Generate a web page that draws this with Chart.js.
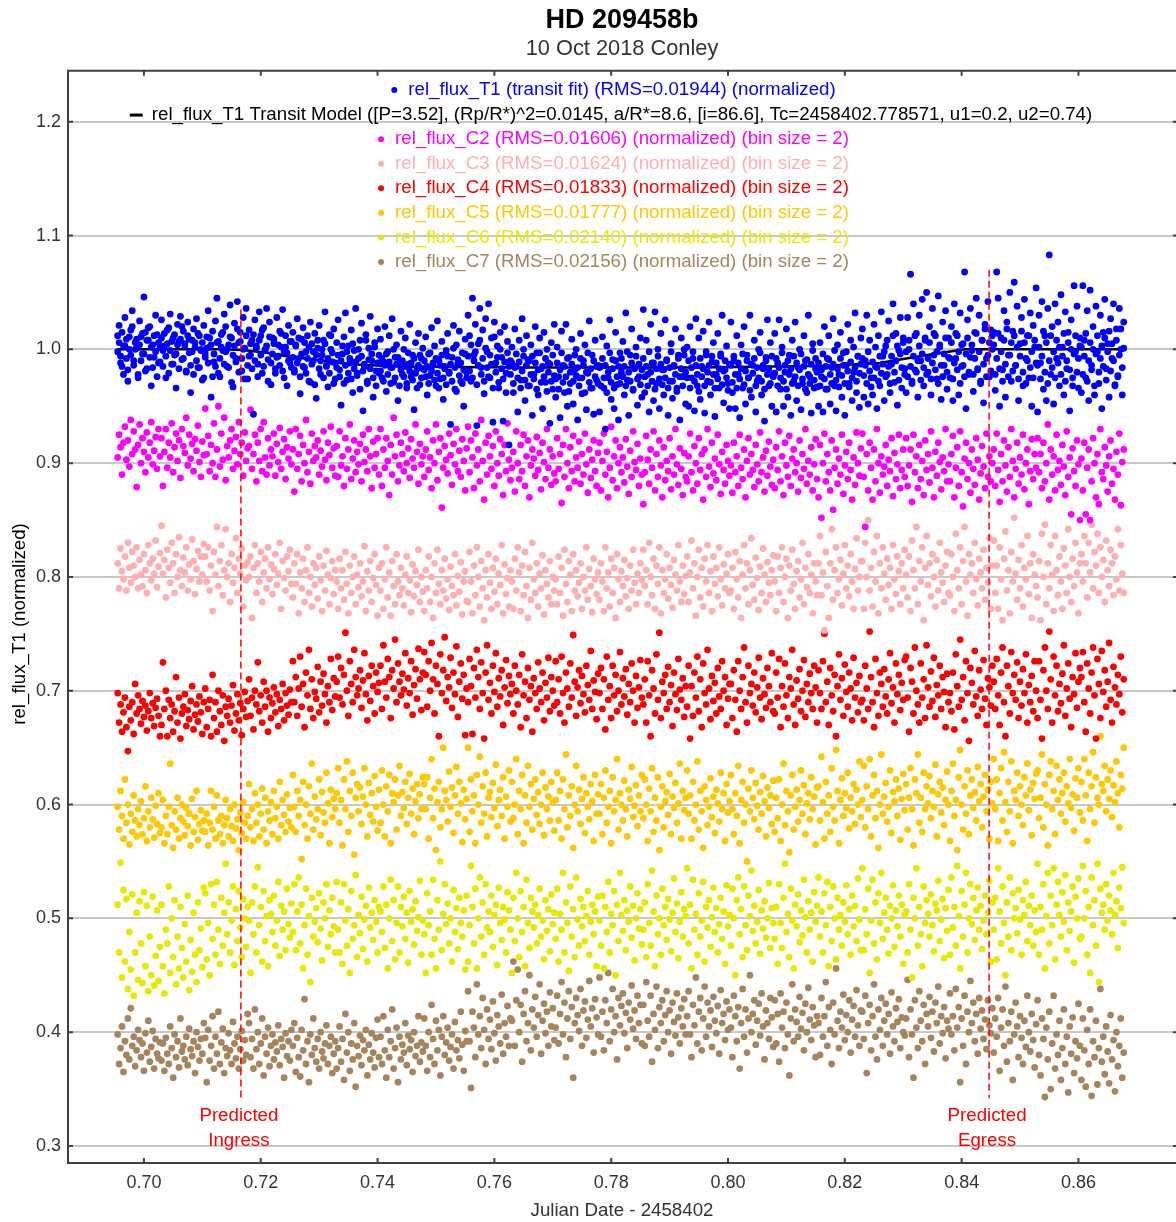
<!DOCTYPE html>
<html>
<head>
<meta charset="utf-8">
<title>HD 209458b</title>
<script src="https://cdn.jsdelivr.net/npm/chart.js@4"></script>
<style>
html, body { margin: 0; padding: 0; background: #ffffff; }
canvas { display: block; }
</style>
</head>
<body>
<canvas id="lightCurve" width="1176" height="1222"></canvas>
<script>
// time in units of 0.00001 day after JD 2458402, flux in units of 0.001
const jd = [
69550,69575,69600,69625,69650,69675,69700,69725,69750,69775,69800,69825,69850,69875,69900,69925,69950,69975,70000,70025,70050,70075,70100,70125,70150,70175,70200,70225,70250,70275,
70300,70325,70350,70375,70400,70425,70450,70475,70500,70525,70550,70575,70600,70625,70650,70675,70700,70725,70750,70775,70800,70825,70850,70875,70900,70925,70950,70975,71000,71025,
71050,71075,71100,71125,71150,71175,71200,71225,71250,71275,71300,71325,71350,71375,71400,71425,71450,71475,71500,71525,71550,71575,71600,71625,71650,71675,71700,71725,71750,71775,
71800,71825,71850,71875,71900,71925,71950,71975,72000,72025,72050,72075,72100,72125,72150,72175,72200,72225,72250,72275,72300,72325,72350,72375,72400,72425,72450,72475,72500,72525,
72550,72575,72600,72625,72650,72675,72700,72725,72750,72775,72800,72825,72850,72875,72900,72925,72950,72975,73000,73025,73050,73075,73100,73125,73150,73175,73200,73225,73250,73275,
73300,73325,73350,73375,73400,73425,73450,73475,73500,73525,73550,73575,73600,73625,73650,73675,73700,73725,73750,73775,73800,73825,73850,73875,73900,73925,73950,73975,74000,74025,
74050,74075,74100,74125,74150,74175,74200,74225,74250,74275,74300,74325,74350,74375,74400,74425,74450,74475,74500,74525,74550,74575,74600,74625,74650,74675,74700,74725,74750,74775,
74800,74825,74850,74875,74900,74925,74950,74975,75000,75025,75050,75075,75100,75125,75150,75175,75200,75225,75250,75275,75300,75325,75350,75375,75400,75425,75450,75475,75500,75525,
75550,75575,75600,75625,75650,75675,75700,75725,75750,75775,75800,75825,75850,75875,75900,75925,75950,75975,76000,76025,76050,76075,76100,76125,76150,76175,76200,76225,76250,76275,
76300,76325,76350,76375,76400,76425,76450,76475,76500,76525,76550,76575,76600,76625,76650,76675,76700,76725,76750,76775,76800,76825,76850,76875,76900,76925,76950,76975,77000,77025,
77050,77075,77100,77125,77150,77175,77200,77225,77250,77275,77300,77325,77350,77375,77400,77425,77450,77475,77500,77525,77550,77575,77600,77625,77650,77675,77700,77725,77750,77775,
77800,77825,77850,77875,77900,77925,77950,77975,78000,78025,78050,78075,78100,78125,78150,78175,78200,78225,78250,78275,78300,78325,78350,78375,78400,78425,78450,78475,78500,78525,
78550,78575,78600,78625,78650,78675,78700,78725,78750,78775,78800,78825,78850,78875,78900,78925,78950,78975,79000,79025,79050,79075,79100,79125,79150,79175,79200,79225,79250,79275,
79300,79325,79350,79375,79400,79425,79450,79475,79500,79525,79550,79575,79600,79625,79650,79675,79700,79725,79750,79775,79800,79825,79850,79875,79900,79925,79950,79975,80000,80025,
80050,80075,80100,80125,80150,80175,80200,80225,80250,80275,80300,80325,80350,80375,80400,80425,80450,80475,80500,80525,80550,80575,80600,80625,80650,80675,80700,80725,80750,80775,
80800,80825,80850,80875,80900,80925,80950,80975,81000,81025,81050,81075,81100,81125,81150,81175,81200,81225,81250,81275,81300,81325,81350,81375,81400,81425,81450,81475,81500,81525,
81550,81575,81600,81625,81650,81675,81700,81725,81750,81775,81800,81825,81850,81875,81900,81925,81950,81975,82000,82025,82050,82075,82100,82125,82150,82175,82200,82225,82250,82275,
82300,82325,82350,82375,82400,82425,82450,82475,82500,82525,82550,82575,82600,82625,82650,82675,82700,82725,82750,82775,82800,82825,82850,82875,82900,82925,82950,82975,83000,83025,
83050,83075,83100,83125,83150,83175,83200,83225,83250,83275,83300,83325,83350,83375,83400,83425,83450,83475,83500,83525,83550,83575,83600,83625,83650,83675,83700,83725,83750,83775,
83800,83825,83850,83875,83900,83925,83950,83975,84000,84025,84050,84075,84100,84125,84150,84175,84200,84225,84250,84275,84300,84325,84350,84375,84400,84425,84450,84475,84500,84525,
84550,84575,84600,84625,84650,84675,84700,84725,84750,84775,84800,84825,84850,84875,84900,84925,84950,84975,85000,85025,85050,85075,85100,85125,85150,85175,85200,85225,85250,85275,
85300,85325,85350,85375,85400,85425,85450,85475,85500,85525,85550,85575,85600,85625,85650,85675,85700,85725,85750,85775,85800,85825,85850,85875,85900,85925,85950,85975,86000,86025,
86050,86075,86100,86125,86150,86175,86200,86225,86250,86275,86300,86325,86350,86375,86400,86425,86450,86475,86500,86525,86550,86575,86600,86625,86650,86675,86700,86725,86750,86775];

const fluxT1 = [
1012,1021,994,985,1003,1028,1009,972,1000,1017,1034,990,1006,1001,978,1025,1011,996,1046,1015,983,1008,1020,968,1004,993,1030,1013,988,1002,
1026,999,1014,975,1005,1019,1031,987,1010,995,966,1022,1007,1029,991,1016,1003,980,1024,1009,962,998,1018,1006,1027,984,1012,1000,973,1021,
996,1011,1034,1002,958,1016,989,1025,1045,1007,976,1013,999,1031,1020,985,1004,1039,1010,967,1023,992,1042,1006,1015,981,1028,1001,1036,974,
1017,995,1008,943,1026,1003,987,1033,1012,979,1019,1000,1036,991,1024,969,1010,1005,983,1028,994,1016,1002,1035,975,1012,997,1021,988,1007,
1015,980,1004,1027,992,961,1009,1019,984,998,1012,972,1024,1005,990,1014,957,1001,1021,978,995,1008,1033,985,967,1013,1000,989,1018,974,
1006,1026,982,951,996,1011,1032,973,1003,988,1017,962,999,1036,979,992,1008,1023,946,985,1013,970,1001,1029,990,958,1006,981,1018,995,
1009,975,989,1020,963,998,1012,984,1027,971,993,1004,955,988,1016,978,1000,1010,966,987,1022,976,995,947,1006,983,1014,969,992,1001,
982,1011,960,996,977,1019,986,1003,968,1025,990,974,1007,956,985,999,1014,979,934,993,1021,965,1004,988,1016,972,997,950,1009,980,
1030,1012,972,1045,995,1022,933,1005,1036,984,1017,961,1027,998,1040,975,1010,936,1024,988,1003,966,1015,993,937,1020,979,1007,916,990,
1002,962,1018,985,945,1008,973,1027,994,955,1012,968,990,1004,942,978,1020,997,960,1010,983,948,1015,971,1000,988,935,1006,965,1022,
958,1002,976,940,1016,986,962,1022,950,993,970,1009,952,982,1000,938,975,1014,961,990,1004,947,979,1025,966,995,943,1008,973,986,
945,985,1011,966,930,1003,975,1026,956,991,948,1015,969,938,997,980,1007,960,1032,973,942,995,1018,964,984,1002,951,976,1010,958,
1035,962,1008,978,945,1022,988,955,1033,970,1000,948,1014,982,960,1026,991,942,972,1005,957,985,1018,966,995,938,1010,976,1000,952,
1002,950,1020,975,992,946,1027,968,1010,956,985,1016,944,998,972,1024,960,989,1006,941,978,1014,966,994,1030,953,982,1003,970,948,
1024,962,990,948,1012,978,940,1004,966,1020,952,995,975,1030,958,986,1008,945,972,1000,1015,960,983,937,993,1026,968,1006,950,978,
1014,945,988,1026,965,1002,950,980,1018,958,995,942,1008,972,1024,955,984,1000,947,970,1012,990,962,1030,976,944,1005,966,992,980,
950,1006,976,945,1020,965,992,1012,952,984,1027,968,946,1004,978,1015,958,997,942,986,1022,970,1008,955,980,1032,962,994,949,1010,
1018,958,990,1030,952,1008,975,960,1022,985,948,1012,968,1033,994,955,1003,978,1025,962,987,1040,971,1014,951,999,1028,966,1006,983,
962,1028,1000,1066,972,1040,982,1014,958,1030,990,1044,968,1008,1050,980,1020,960,1036,995,1012,974,1047,1002,956,1024,986,1034,965,1010,
975,1020,955,1040,992,1012,960,1032,985,1005,1068,948,1026,978,1036,999,963,1015,1045,982,1030,970,1008,953,1022,992,1042,976,1017,1000,
1015,964,1068,1045,950,1010,982,1034,958,1024,995,1050,972,1016,1059,986,1038,955,1005,1028,968,1044,992,1012,975,1032,950,1021,1002,1054,
945,1030,988,1042,965,1012,955,1036,1083,978,1020,952,1040,992,1024,968,1048,1002,960,1033,983,1015,946,1026,975,1056,998,1038,966,1010,
962,1056,1008,975,1034,955,1052,986,1020,960,1038,998,970,1030,948,1015,1044,983,1005,958,1027,992,1040,968,1018,976,1036,1000,960,1024];

const fluxT1b = [
998,1006,988,1015,978,1003,992,982,1011,995,1020,986,1000,1009,975,1004,990,1014,996,981,1008,1019,993,1002,984,1012,998,976,1006,989,
1010,985,1003,994,1017,979,999,1007,987,1013,996,1004,983,1009,1020,992,1005,981,1012,997,986,1008,978,1002,990,1014,984,999,1006,975,
993,1001,988,1010,1004,976,996,985,1006,979,992,1002,1015,987,998,1000,984,1011,971,995,1003,989,1018,980,1007,992,1000,974,1012,986,
994,1005,983,1013,990,1001,976,1008,995,1017,985,999,1003,972,1011,988,996,1009,979,993,1004,986,1014,981,998,1002,968,990,1007,984,
993,982,1003,988,1010,976,996,985,1006,979,992,1002,971,987,998,969,995,1008,983,990,1000,975,1005,986,992,979,1012,997,970,988,
984,995,976,990,1003,970,986,998,979,992,974,1005,983,989,977,1000,965,994,981,987,1008,972,991,983,996,975,1002,968,988,979,
981,992,972,986,996,978,989,970,984,1000,975,987,993,968,982,990,976,985,970,997,981,988,973,992,979,966,986,995,975,983,
990,976,985,970,997,981,988,973,992,979,966,986,995,975,983,969,994,980,987,972,1001,984,963,991,977,988,970,982,996,975,
994,981,1004,975,990,998,969,986,1008,978,992,972,1001,984,976,995,987,966,1011,980,993,971,1000,983,974,989,962,997,985,978,
988,970,984,996,975,989,966,981,1000,973,986,991,968,978,994,974,988,965,982,997,971,985,976,992,963,980,987,972,995,977,
974,988,965,982,997,971,985,976,992,963,980,987,972,995,977,984,968,992,975,986,962,980,997,971,983,966,990,976,985,970,
984,968,992,975,986,962,980,997,971,983,966,990,976,985,970,992,976,985,968,998,980,972,988,965,983,994,974,987,969,982,
992,976,985,968,998,980,972,988,965,983,994,974,987,969,982,975,990,966,984,998,972,986,978,963,992,976,983,968,995,980,
975,990,966,984,998,972,986,978,963,992,976,983,968,995,980,986,971,994,978,966,988,974,983,996,969,981,990,975,964,987,
986,971,994,978,966,988,974,983,996,969,981,990,975,964,987,979,992,968,984,975,997,972,986,965,990,978,983,970,994,976,
979,992,968,984,975,997,972,986,965,990,978,983,970,994,976,988,968,982,996,974,985,965,991,978,970,987,999,973,983,967,
988,968,982,996,974,985,965,991,978,970,987,999,973,983,967,992,977,986,970,998,981,967,989,975,1002,984,972,994,979,987,
992,977,986,970,998,981,967,989,975,1002,984,972,994,979,987,998,976,1008,985,970,994,1012,980,990,1003,973,996,984,1010,978,
998,976,1008,985,970,994,1012,980,990,1003,973,996,984,1010,978,992,1006,974,988,1014,982,998,970,1004,986,976,996,1010,980,993,
992,1006,974,988,1014,982,998,970,1004,986,976,996,1010,980,993,1004,978,992,1014,983,998,972,1008,987,1018,976,995,1006,981,1012,
1004,978,992,1014,983,998,972,1008,987,1018,976,995,1006,981,1012,986,1002,974,994,1016,980,1006,970,990,1012,984,998,975,1008,988,
986,1002,974,994,1016,980,1006,970,990,1012,984,998,975,1008,988,1002,978,994,1014,972,990,1006,982,1000,968,996,1012,980,992,1003,
1002,978,994,1014,972,990,1006,982,1000,968,996,1012,980,992,1003,985,1010,973,998,1016,981,1005,990,969,1008,977,995,1018,984,1001];

const fluxC2 = [
905,925,914,890,918,932,903,920,897,938,908,928,912,879,916,934,900,922,910,892,927,905,918,936,899,911,923,895,930,906,
922,880,910,930,896,918,905,935,892,914,926,902,920,887,930,915,909,940,898,925,904,917,893,921,911,933,901,888,919,907,
948,908,924,893,916,900,935,888,912,950,897,926,903,940,885,915,905,920,930,895,911,923,899,936,908,918,889,927,902,913,
915,947,895,908,925,884,918,902,930,893,936,905,890,922,898,912,906,926,889,917,901,931,895,910,921,886,914,904,928,899,
912,875,930,895,908,924,884,916,900,938,892,910,882,926,902,915,905,920,890,911,897,928,903,885,918,907,932,896,913,889,
915,888,928,898,906,880,922,895,912,934,886,904,920,892,910,899,917,884,925,901,912,893,930,906,878,919,896,908,922,890,
930,880,912,896,922,902,872,916,890,940,906,925,884,898,918,908,893,927,900,913,887,921,904,896,934,910,882,917,899,906,
888,912,928,894,905,878,920,900,934,885,910,922,861,896,915,903,891,926,907,881,917,899,930,893,911,888,921,902,876,913,
932,892,920,905,878,926,898,912,884,938,902,868,918,890,924,906,895,915,880,928,900,889,921,908,872,916,893,935,903,885,
896,910,875,928,900,886,916,893,925,880,906,920,870,898,912,904,889,923,894,909,877,918,901,886,930,896,912,881,906,891,
884,922,895,908,865,916,888,930,900,878,914,893,924,884,905,896,919,882,908,890,926,899,874,912,887,903,920,893,880,909,
918,876,902,926,890,910,870,896,932,885,906,920,878,900,914,892,905,883,921,897,873,911,888,928,901,894,917,880,904,890,
864,892,924,903,882,912,896,928,876,908,888,920,898,870,914,885,902,893,922,877,906,890,930,899,881,913,895,872,909,888,
884,906,926,892,876,915,900,882,922,894,908,868,912,888,930,897,879,918,891,904,885,925,899,873,910,894,882,916,902,889,
898,874,918,892,906,880,925,896,886,912,870,902,922,890,908,894,879,916,899,884,927,892,905,875,911,889,919,897,881,903,
878,914,894,928,884,906,872,918,898,888,924,880,904,912,892,900,875,920,887,908,895,930,882,902,890,914,876,899,921,886,
870,916,852,900,926,884,908,892,876,920,859,896,912,882,904,890,925,873,898,910,886,918,894,868,905,881,927,900,889,913,
926,888,844,908,876,918,896,868,912,884,930,900,874,906,890,897,916,880,903,893,922,871,909,886,899,925,878,894,912,888,
922,880,898,912,866,925,892,906,878,916,886,902,872,920,894,908,883,928,896,870,910,889,918,901,877,905,893,930,884,899,
884,908,924,870,896,914,880,928,892,862,904,918,886,900,874,912,895,881,922,903,868,891,915,897,878,926,888,906,884,900,
912,880,926,894,866,908,884,920,898,875,914,888,930,902,870,895,918,882,905,890,925,877,900,912,864,893,921,886,908,896,
922,892,908,878,918,884,900,934,868,912,890,906,876,925,894,902,881,916,897,872,928,888,905,855,913,893,880,920,899,850,
904,876,918,855,896,912,850,884,922,900,870,908,864,930,892,886,914,898,875,906,920,882,895,868,910,890,926,863,901,912];

const fluxC3 = [
812,790,825,805,798,818,788,830,808,795,822,810,800,826,790,815,802,792,820,806,786,828,812,797,816,803,832,791,809,821,
845,803,815,782,824,808,795,830,812,786,820,800,835,806,792,817,804,826,788,811,798,833,814,785,807,823,796,818,802,829,
818,796,826,788,810,770,822,802,844,792,814,828,784,806,842,800,812,778,820,795,808,834,786,816,803,825,774,810,797,813,
800,818,764,808,828,786,812,796,822,778,804,816,790,826,798,811,785,807,820,793,803,830,772,814,799,788,818,805,824,794,
782,812,794,820,768,804,790,816,778,806,826,786,800,774,812,793,808,781,818,797,770,810,788,823,802,776,799,814,785,806,
796,772,816,790,806,780,822,794,768,810,786,800,818,776,802,791,812,783,796,827,770,805,788,814,778,799,820,793,766,808,
788,812,772,798,826,782,804,766,814,792,776,820,796,784,808,790,775,802,818,786,797,769,811,783,805,793,824,778,800,787,
770,806,790,818,778,800,764,812,786,824,794,776,806,788,816,781,798,771,809,792,784,820,775,801,787,813,767,796,805,779,
778,822,796,768,810,784,826,800,774,814,790,762,806,782,820,795,772,808,787,816,776,803,793,828,768,811,785,799,774,806,
796,772,816,788,826,804,770,810,784,822,792,764,808,780,830,798,786,812,774,803,790,819,767,806,794,782,814,776,800,788,
798,776,818,786,808,766,824,794,778,814,802,770,820,788,806,783,795,812,772,800,788,826,780,807,792,769,816,798,785,804,
780,812,796,770,826,790,804,774,816,786,808,764,820,798,778,805,792,815,783,799,772,810,788,824,795,776,803,786,812,797,
824,792,806,776,830,800,784,816,772,810,794,826,768,806,786,798,820,781,808,793,773,815,802,788,828,796,778,810,785,801,
818,778,804,832,790,812,766,800,824,782,808,774,816,796,828,786,805,770,818,794,808,783,826,798,775,811,790,803,820,786,
788,808,772,822,798,782,814,764,802,828,790,812,776,806,834,793,780,817,799,771,809,786,825,802,778,813,795,784,806,819,
796,770,818,786,808,826,778,800,816,764,810,788,824,794,772,805,814,782,798,830,776,808,791,820,786,802,768,812,796,784,
812,836,784,804,753,822,792,764,812,842,780,806,826,786,798,815,775,803,828,790,810,783,820,796,772,807,834,788,800,814,
814,772,830,800,850,788,808,774,822,796,836,768,812,790,826,803,780,816,793,808,772,828,798,785,818,805,776,812,790,824,
802,782,818,770,832,806,790,844,776,814,796,826,762,808,836,793,812,783,820,800,774,815,788,830,804,795,778,810,822,786,
784,820,800,770,838,806,790,826,776,814,844,796,766,820,802,812,786,830,798,775,816,804,790,824,780,808,795,834,772,810,
832,786,810,772,826,798,762,816,840,788,806,768,822,796,852,803,780,815,790,828,774,808,798,836,785,812,764,820,802,792,
782,814,762,838,800,846,776,812,790,828,802,770,836,806,784,818,796,772,825,810,786,842,800,778,816,792,830,804,768,812,
820,796,836,812,782,830,804,846,790,822,810,838,786,826,800,815,778,832,806,792,824,812,784,818,798,842,788,828,803,786];

const fluxC4 = [
698,672,688,664,681,694,668,647,686,674,690,662,706,680,696,684,671,691,677,687,665,682,698,676,689,669,685,693,678,660,
670,725,684,700,660,692,676,688,664,682,712,672,694,658,680,686,697,669,683,675,691,704,666,679,688,673,695,681,662,690,
702,668,684,692,660,714,676,690,664,700,682,670,696,656,686,678,693,672,687,705,665,680,697,674,689,661,684,699,677,691,
710,678,694,666,700,688,725,682,696,672,708,686,700,664,694,676,689,703,681,697,669,692,684,706,674,698,687,679,701,690,
726,690,712,678,702,730,686,706,668,716,696,736,684,710,676,699,693,721,681,708,687,715,697,672,704,690,728,683,711,695,
708,730,694,720,688,714,751,700,678,726,706,690,736,712,696,702,718,685,709,733,697,674,713,691,722,704,680,716,699,707,
722,684,740,708,694,728,712,676,718,702,745,690,724,708,696,715,701,733,687,711,698,726,679,705,719,693,737,710,683,716,
734,714,686,726,700,742,710,680,722,706,660,732,698,718,747,691,712,703,729,685,716,697,739,677,708,724,693,714,661,702,
690,728,704,662,720,694,736,712,684,725,698,658,716,740,692,707,680,722,699,733,686,711,695,718,670,703,727,689,713,697,
706,680,722,700,688,714,668,732,696,708,676,720,692,704,664,711,698,684,725,702,690,716,674,707,694,729,682,712,700,687,
726,690,710,680,730,698,672,716,702,686,724,694,749,708,678,703,718,689,713,697,681,722,705,692,735,684,709,699,675,715,
698,720,684,710,666,730,692,704,676,722,696,714,682,700,734,688,711,695,719,679,706,690,724,700,672,713,685,703,727,694,
688,710,672,726,696,660,718,702,680,732,692,751,676,708,698,714,684,721,690,705,669,716,697,683,728,701,692,711,677,704,
686,722,658,704,678,716,694,730,682,710,668,724,698,688,736,702,675,713,691,707,680,720,695,684,726,700,712,670,693,706,
706,676,718,692,664,726,700,684,712,738,690,672,722,698,706,687,716,681,703,729,694,675,711,697,685,720,704,690,733,682,
680,716,694,728,668,704,686,724,696,676,712,702,736,688,670,709,693,719,682,700,727,677,706,690,715,698,684,722,703,672,
718,698,684,726,750,690,708,670,720,696,682,714,660,704,732,692,711,678,723,699,686,716,702,674,729,694,707,681,713,690,
692,674,722,702,684,752,712,690,668,728,698,678,716,706,686,719,695,680,710,733,689,703,672,724,697,714,683,707,692,727,
730,694,664,720,708,680,738,700,688,672,724,694,710,676,740,703,686,717,691,729,677,705,696,722,684,712,699,668,715,690,
698,682,716,666,732,704,686,745,692,712,674,726,698,656,720,707,688,735,695,678,718,701,684,727,693,670,711,703,687,722,
708,684,728,696,670,716,738,690,660,722,704,680,734,698,714,692,725,676,708,687,719,698,732,672,705,690,713,682,726,700,
676,726,692,658,718,738,700,684,752,710,672,730,696,722,682,706,689,715,740,678,702,724,693,668,712,697,733,685,708,720,
712,734,690,664,724,702,680,716,738,696,658,728,706,676,735,699,718,686,708,742,692,672,721,703,688,714,697,730,681,710];

const fluxC5 = [
598,578,612,590,570,622,584,600,565,592,576,608,586,572,596,582,603,574,588,616,568,594,580,606,587,571,599,583,610,575,
580,604,566,590,574,598,636,582,562,594,578,606,570,588,600,585,573,597,581,592,564,605,576,589,612,569,583,595,577,586,
576,592,564,584,612,578,598,570,608,586,574,590,566,582,604,588,572,596,581,568,600,579,587,560,593,575,602,584,570,590,
618,580,596,568,610,584,600,572,592,614,578,606,566,594,586,602,574,612,588,598,570,620,582,604,591,576,609,585,597,580,
626,598,576,612,590,604,552,620,582,600,570,616,592,636,578,607,587,596,622,573,611,593,584,628,601,566,613,589,605,596,
610,632,584,604,564,622,596,638,576,612,590,628,556,606,618,594,615,583,607,632,600,572,619,591,610,585,625,598,577,613,
584,630,600,572,616,594,626,566,610,602,622,578,608,634,590,611,597,620,583,606,627,592,614,574,603,618,588,609,596,624,
618,596,624,570,606,640,588,614,560,602,620,580,596,650,612,604,585,629,598,615,575,608,633,592,620,601,567,613,587,605,
650,576,622,594,608,566,626,600,642,584,616,592,628,572,606,611,589,619,597,635,581,604,613,590,624,570,607,598,630,585,
620,588,600,640,574,612,596,626,566,608,584,634,598,618,578,605,622,591,611,583,600,628,573,615,596,607,586,620,602,577,
604,628,586,612,570,622,596,644,580,608,590,616,562,600,634,594,613,583,605,624,575,610,598,587,618,603,568,626,592,609,
592,618,574,606,630,584,598,612,566,624,594,604,640,578,610,600,586,621,596,572,613,605,633,589,599,617,581,608,594,626,
588,622,600,568,614,594,632,576,606,586,624,560,598,616,580,603,611,591,627,574,607,597,619,584,601,636,570,612,595,606,
630,592,608,570,620,586,600,638,578,612,594,562,616,604,582,598,623,589,607,575,613,601,585,628,596,610,568,618,593,603,
626,596,574,610,590,634,566,604,620,584,600,550,614,594,630,606,587,619,599,578,611,592,625,603,572,615,597,608,583,621,
576,606,588,622,568,600,636,582,612,594,558,608,626,578,598,613,585,604,630,592,617,574,601,610,587,624,596,607,565,615,
616,586,642,602,570,620,592,608,576,632,598,586,648,612,566,604,623,590,610,597,628,579,606,594,618,583,613,600,638,589,
604,634,580,616,596,640,572,608,626,588,612,562,600,644,592,607,619,585,598,630,575,611,603,622,590,614,569,605,627,595,
618,578,606,632,596,564,622,610,644,584,606,576,628,596,616,601,625,588,612,598,635,572,609,620,593,615,582,604,629,600,
568,612,636,590,604,560,624,648,600,578,616,592,630,574,608,622,597,611,586,633,603,618,580,607,626,594,613,570,620,601,
640,596,622,568,610,632,586,646,602,576,620,594,638,566,612,604,628,590,616,600,582,624,608,636,595,613,573,619,605,627,
630,588,606,644,580,618,600,564,626,638,596,612,574,634,604,622,592,610,628,585,616,601,640,597,609,577,623,606,632,593,
620,586,640,608,568,628,596,616,646,584,624,606,600,660,618,612,634,594,622,605,630,589,617,602,638,610,580,626,614,650];

const fluxC6 = [
512,470,549,448,525,462,517,438,488,455,521,432,470,505,446,515,478,443,523,458,511,436,484,450,519,441,467,507,445,475,
512,458,434,490,478,528,452,500,466,516,442,484,456,510,474,448,495,462,520,437,481,453,505,468,444,514,472,491,457,527,
522,464,496,450,530,482,512,468,532,490,460,518,476,505,548,486,514,470,498,528,459,508,480,524,492,466,517,500,475,510,
498,452,514,486,528,470,545,494,510,462,524,480,502,458,516,504,488,520,476,498,532,467,511,490,506,472,526,495,483,513,
488,530,472,506,536,478,512,456,494,526,468,502,444,518,484,497,509,479,522,491,463,514,500,530,475,507,486,518,493,470,
532,490,470,514,460,530,498,476,508,452,524,482,494,538,466,503,487,519,473,499,511,462,527,492,505,481,516,497,470,510,
506,488,528,474,512,456,500,534,480,516,464,496,528,470,510,493,519,482,505,461,524,497,508,477,515,489,501,533,468,498,
486,452,522,494,506,468,534,482,456,516,490,550,472,504,530,495,513,478,500,462,525,488,509,473,518,496,484,507,455,520,
462,494,546,510,478,526,456,500,536,484,514,468,530,492,506,488,520,475,503,512,459,527,496,481,510,499,470,523,507,490,
452,518,480,540,500,466,524,488,510,458,534,496,474,518,506,492,512,478,503,526,484,498,464,516,489,508,471,521,495,505,
482,526,462,504,490,540,470,514,496,454,528,484,508,466,536,499,476,517,493,510,480,502,524,468,497,512,486,506,458,519,
498,476,520,456,510,488,532,470,504,494,524,450,512,480,540,503,489,516,472,507,497,528,483,511,463,500,522,491,508,477,
490,514,466,530,496,476,542,506,458,520,486,500,468,526,494,510,481,517,499,471,505,535,488,513,465,497,523,484,508,502,
544,478,512,456,534,490,504,468,522,484,498,532,462,510,492,516,475,501,527,488,509,470,495,518,482,506,460,529,493,503,
476,526,500,450,516,536,486,508,466,528,494,472,520,502,542,489,511,478,497,525,469,507,491,515,483,500,531,474,509,496,
482,510,460,530,496,474,518,548,488,504,466,526,498,456,512,493,521,479,507,485,534,501,470,515,490,505,462,523,497,511,
536,484,506,470,522,494,532,458,510,480,528,500,464,518,490,503,476,514,497,529,486,508,468,520,493,511,480,535,499,472,
544,472,508,486,526,452,498,534,478,514,464,522,496,540,482,505,518,490,469,511,500,529,475,507,493,520,484,512,460,503,
506,470,530,490,448,518,500,544,476,510,486,458,528,496,516,504,484,521,494,471,513,507,533,480,499,517,465,509,489,525,
468,536,492,510,476,546,502,456,524,484,512,540,470,500,530,495,518,481,507,527,490,511,473,498,520,486,505,533,462,514,
490,518,464,544,506,478,528,496,450,514,484,536,472,522,500,509,487,525,499,468,516,503,532,480,511,494,520,476,507,488,
548,468,510,490,530,456,502,540,478,520,494,544,464,512,532,503,484,523,497,538,472,514,489,506,528,461,519,500,535,482,
484,546,500,524,468,510,452,536,494,516,476,548,444,526,505,512,490,530,498,520,507,486,540,503,515,474,527,509,545,496];

const fluxC7 = [
398,372,386,405,365,392,380,412,376,421,388,396,370,384,402,393,378,390,366,399,382,410,374,387,401,368,394,381,377,391,
375,390,366,395,381,372,405,386,360,398,378,392,369,412,383,388,376,396,371,403,385,379,392,364,400,387,375,394,381,408,
395,356,402,375,388,414,368,396,381,418,372,391,403,364,386,379,399,384,372,409,390,377,396,368,385,401,375,393,380,416,
408,378,394,368,420,385,400,372,390,412,362,396,381,404,370,388,398,376,391,383,406,371,394,387,360,399,379,392,375,402,
388,408,365,395,378,361,402,384,429,372,392,356,398,380,412,386,374,394,368,400,383,377,390,406,372,388,396,364,381,392,
368,386,405,374,394,358,416,382,400,366,390,376,408,352,388,379,397,371,393,384,402,362,389,376,399,382,369,395,411,378,
396,372,414,384,360,402,378,392,420,368,386,404,356,396,376,389,382,408,371,397,385,393,365,400,379,388,414,374,391,383,
412,388,366,400,378,424,394,372,410,384,402,362,396,414,380,391,404,375,387,398,368,409,384,393,377,418,389,366,401,392,
436,392,351,418,404,378,442,398,414,386,430,402,372,420,394,411,385,427,399,375,415,405,390,433,381,408,396,423,388,412,
410,462,388,428,455,400,424,374,416,436,392,408,450,384,420,404,431,396,415,442,381,410,425,399,418,388,435,405,421,393,
404,432,390,416,444,398,426,378,412,436,394,422,360,408,430,415,401,438,388,419,427,395,411,445,405,421,382,429,413,398,
448,396,418,384,428,408,452,392,420,438,400,414,376,430,406,423,434,399,417,386,426,411,441,403,419,394,432,408,424,390,
424,388,444,410,396,432,374,416,402,440,386,422,408,428,392,415,436,400,419,381,426,409,397,434,413,390,421,405,429,398,
414,436,398,378,424,406,448,390,418,430,384,412,440,396,426,405,419,387,431,410,399,423,381,437,408,416,393,427,402,420,
404,378,432,414,392,422,368,408,438,396,420,382,412,450,400,416,428,389,410,425,397,434,405,376,419,408,394,430,413,387,
428,390,416,374,434,404,418,386,426,398,362,412,442,392,420,409,396,431,403,417,384,425,400,439,411,393,422,406,378,414,
408,380,430,396,414,444,388,422,402,372,426,398,456,410,386,418,404,433,393,415,400,428,382,411,423,396,437,406,388,419,
418,394,432,364,408,424,384,414,442,396,376,420,402,430,388,410,425,398,416,381,435,405,392,421,409,429,386,413,400,397,
412,446,378,420,398,360,428,404,386,436,410,392,424,372,416,405,431,395,418,383,426,408,440,390,414,399,422,377,410,403,
434,398,414,384,438,404,422,356,412,388,432,372,418,400,445,408,426,392,416,381,430,403,419,394,411,385,428,406,399,421,
382,412,396,430,366,404,420,388,440,374,408,392,418,358,398,426,405,378,414,395,372,410,387,432,400,383,416,393,369,407,
428,380,362,412,394,343,404,376,418,350,390,432,368,398,380,410,358,386,420,372,396,347,405,381,413,364,392,377,425,388,
358,412,384,352,402,372,420,344,392,378,410,354,386,438,374,396,363,405,383,355,415,376,393,348,400,370,388,412,360,382];

// transit model curve, on the same units
const modelX = [69550,71300,71700,72100,72450,72790,73530,74400,75190,76500,77860,79500,81700,82600,83000,83410,84060,86750];
const modelY = [1000,1000,999.5,997,994,991.7,987,985,984.5,984,984,984,985.5,988,991.5,995,1000,1000];

const ingressX = [71660,71660];
const ingressY = [1035,342];
const egressX = [84470,84470];
const egressY = [1070,342];

const legendLabels = [
  "rel_flux_T1 (transit fit) (RMS=0.01944) (normalized)",
  "rel_flux_T1 Transit Model ([P=3.52], (Rp/R*)^2=0.0145, a/R*=8.6, [i=86.6], Tc=2458402.778571, u1=0.2, u2=0.74)",
  "rel_flux_C2 (RMS=0.01606) (normalized) (bin size = 2)",
  "rel_flux_C3 (RMS=0.01624) (normalized) (bin size = 2)",
  "rel_flux_C4 (RMS=0.01833) (normalized) (bin size = 2)",
  "rel_flux_C5 (RMS=0.01777) (normalized) (bin size = 2)",
  "rel_flux_C6 (RMS=0.02140) (normalized) (bin size = 2)",
  "rel_flux_C7 (RMS=0.02156) (normalized) (bin size = 2)"
];
const legendColors = ["#0000ff","#000000","#ff00ff","#ffafaf","#ff0000","#ffc800","#e8e800","#a8845c"];
const FONT = '"Liberation Sans", Arial, sans-serif';

const frameAndLegend = {
  id: "frameAndLegend",
  afterDraw(chart) {
    const ctx = chart.ctx, a = chart.chartArea;
    ctx.save();
    ctx.strokeStyle = "#404040";
    ctx.lineWidth = 2;
    ctx.beginPath();
    ctx.moveTo(a.right, a.top); ctx.lineTo(a.left, a.top);
    ctx.lineTo(a.left, a.bottom); ctx.lineTo(a.right, a.bottom);
    ctx.stroke();
    chart.scales.x.ticks.forEach(t => {
      const p = chart.scales.x.getPixelForValue(t.value);
      ctx.beginPath();
      ctx.moveTo(p, a.bottom); ctx.lineTo(p, a.bottom - 5);
      ctx.moveTo(p, a.top); ctx.lineTo(p, a.top + 5);
      ctx.stroke();
    });
    chart.scales.y.ticks.forEach(t => {
      const p = chart.scales.y.getPixelForValue(t.value);
      ctx.beginPath();
      ctx.moveTo(a.left, p); ctx.lineTo(a.left + 5, p);
      ctx.moveTo(a.right, p); ctx.lineTo(a.right - 3, p);
      ctx.stroke();
    });

    // legend rows, centred over the plot
    ctx.font = "18.7px " + FONT;
    ctx.textBaseline = "middle";
    const mid = (a.left + a.right) / 2;
    legendLabels.forEach((label, i) => {
      const y = 90 + i * 24.57;
      const left = mid - ctx.measureText(label).width / 2;
      ctx.fillStyle = legendColors[i];
      ctx.textAlign = "left";
      ctx.fillText(label, left, y);
      if (i == 1) {
        ctx.fillRect(left - 22, y - 1, 13, 3);
      } else {
        ctx.beginPath();
        ctx.arc(left - 14, y, 3, 0, Math.PI * 2);
        ctx.fill();
      }
    });

    ctx.fillStyle = "#ff0000";
    ctx.textAlign = "center";
    const xi = chart.scales.x.getPixelForValue(ingressX[0] / 100000) - 2;
    const xe = chart.scales.x.getPixelForValue(egressX[0] / 100000) - 2;
    ctx.fillText("Predicted", xi, 1116);
    ctx.fillText("Ingress", xi, 1141);
    ctx.fillText("Predicted", xe, 1116);
    ctx.fillText("Egress", xe, 1141);

    ctx.fillStyle = "#000000";
    ctx.translate(20, 624);
    ctx.rotate(-Math.PI / 2);
    ctx.fillText("rel_flux_T1 (normalized)", 0, 0);
    ctx.restore();
  }
};

function pairs(xs, ys) {
  return xs.map((x, i) => ({x: x / 100000, y: ys[i] / 1000}));
}

function dots(values, color, order) {
  return { data: pairs(jd, values), backgroundColor: color, pointRadius: 3.4, borderWidth: 0, order };
}

new Chart(document.getElementById("lightCurve"), {
  type: "scatter",
  plugins: [frameAndLegend],
  data: {
    datasets: [
      dots(fluxT1, "#0000ff", 2),
      dots(fluxT1b, "#0000ff", 2),
      { type: "line", data: pairs(modelX, modelY), borderColor: "#000000", borderWidth: 2.5, pointRadius: 0, order: 3 },
      dots(fluxC2, "#ff00ff", 4),
      dots(fluxC3, "#ffafaf", 5),
      dots(fluxC4, "#ff0000", 6),
      dots(fluxC5, "#ffc800", 7),
      dots(fluxC6, "#e8e800", 8),
      dots(fluxC7, "#a8845c", 9),
      { type: "line", data: pairs(ingressX, ingressY), borderColor: "#ff0000", borderWidth: 1.5, borderDash: [7,4], pointRadius: 0, order: 1 },
      { type: "line", data: pairs(egressX, egressY), borderColor: "#ff0000", borderWidth: 1.5, borderDash: [7,4], pointRadius: 0, order: 1 }
    ]
  },
  options: {
    responsive: false,
    animation: false,
    layout: { padding: 0, autoPadding: false },
    plugins: {
      legend: { display: false },
      tooltip: { enabled: false },
      title: { display: true, fullSize: false, text: "HD 209458b", color: "#000000", font: { family: FONT, size: 27, weight: "bold" }, padding: { top: 4, bottom: 2 } },
      subtitle: { display: true, fullSize: false, text: "10 Oct 2018 Conley", color: "#333333", font: { family: FONT, size: 21.8, weight: "normal", lineHeight: 1 }, padding: { top: 0, bottom: 10.6 } }
    },
    scales: {
      x: {
        type: "linear", min: 0.687, max: 0.8767,
        afterFit(s) { s.height = 59; s.paddingRight = 0; s.paddingLeft = 0; },
        grid: { display: false },
        border: { display: false },
        ticks: { stepSize: 0.02, includeBounds: false, color: "#333333", padding: 1, maxRotation: 0, font: { family: FONT, size: 18 }, callback: v => v.toFixed(2) },
        title: { display: true, text: "Julian Date - 2458402", color: "#333333", font: { family: FONT, size: 18.7 }, padding: { top: 4, bottom: 0 } }
      },
      y: {
        type: "linear", min: 0.285, max: 1.2448,
        afterFit(s) { s.width = 68; s.paddingTop = 0; s.paddingBottom = 0; },
        grid: { color: "#c8c8c8", lineWidth: 2, drawTicks: false },
        border: { display: false },
        ticks: { stepSize: 0.1, includeBounds: false, color: "#333333", padding: 7, font: { family: FONT, size: 18 }, callback: v => v.toFixed(1) }
      }
    }
  }
});
</script>
</body>
</html>
